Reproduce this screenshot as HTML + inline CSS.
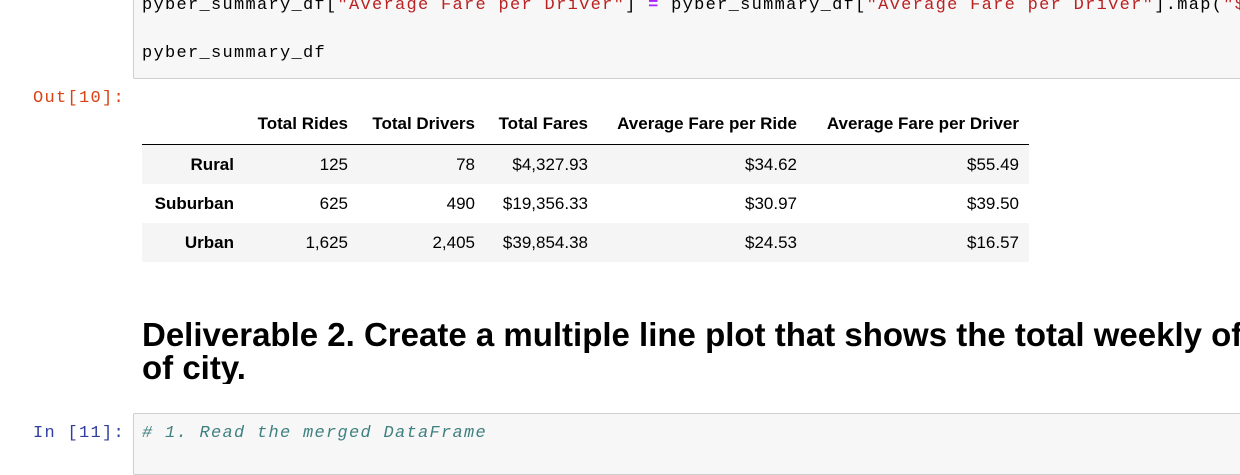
<!DOCTYPE html>
<html><head><meta charset="utf-8"><style>
body{margin:0;width:1240px;height:438px;overflow:hidden;background:#fff;position:relative;font-family:"Liberation Sans",Arial,sans-serif}
.mono{font-family:"Liberation Mono",monospace;font-size:17px;letter-spacing:1.3px;white-space:pre;position:absolute;overflow:hidden}
.cell{position:absolute;left:133px;right:0;background:#f7f7f7;border:1px solid #cfcfcf;border-right:none;border-radius:2px 0 0 2px}
table{position:absolute;left:142px;top:104px;border-collapse:collapse;font-size:17px;color:#000;table-layout:fixed;width:887px}
th,td{padding:0 10px;text-align:right;height:39px;white-space:nowrap;overflow:hidden}
thead th{height:40px;border-bottom:1px solid #000;vertical-align:middle}
tbody tr:nth-child(odd){background:#f5f5f5}
h2{position:absolute;left:142px;right:0;top:318px;margin:0;font-size:33px;line-height:33px;font-weight:bold;white-space:nowrap;overflow:hidden}
</style></head><body>
<div class="cell" style="top:-5px;height:82px"></div>
<div class="mono" style="left:142px;right:0;top:-4px">pyber_summary_df[<span style="color:#ba2121">"Average Fare per Driver"</span>] <span style="color:#aa22ff;font-weight:bold">=</span> pyber_summary_df[<span style="color:#ba2121">"Average Fare per Driver"</span>].map(<span style="color:#ba2121">"$</span></div>
<div class="mono" style="left:142px;top:44px">pyber_summary_df</div>
<div class="mono" style="left:33px;top:89px;color:#d84315">Out[10]:</div>
<table>
<colgroup><col style="width:102px"><col style="width:114px"><col style="width:127px"><col style="width:113px"><col style="width:209px"><col style="width:222px"></colgroup>
<thead><tr><th></th><th>Total Rides</th><th>Total Drivers</th><th>Total Fares</th><th>Average Fare per Ride</th><th>Average Fare per Driver</th></tr></thead>
<tbody>
<tr><th>Rural</th><td>125</td><td>78</td><td>$4,327.93</td><td>$34.62</td><td>$55.49</td></tr>
<tr><th>Suburban</th><td>625</td><td>490</td><td>$19,356.33</td><td>$30.97</td><td>$39.50</td></tr>
<tr><th>Urban</th><td>1,625</td><td>2,405</td><td>$39,854.38</td><td>$24.53</td><td>$16.57</td></tr>
</tbody></table>
<h2>Deliverable 2. Create a multiple line plot that shows the total weekly of fares<br>of city.</h2>
<div class="cell" style="top:413px;height:60px"></div>
<div class="mono" style="left:33px;top:424px;color:#303f9f">In [11]:</div>
<div class="mono" style="left:142px;top:424px;color:#408080;font-style:italic"># 1. Read the merged DataFrame</div>
</body></html>
